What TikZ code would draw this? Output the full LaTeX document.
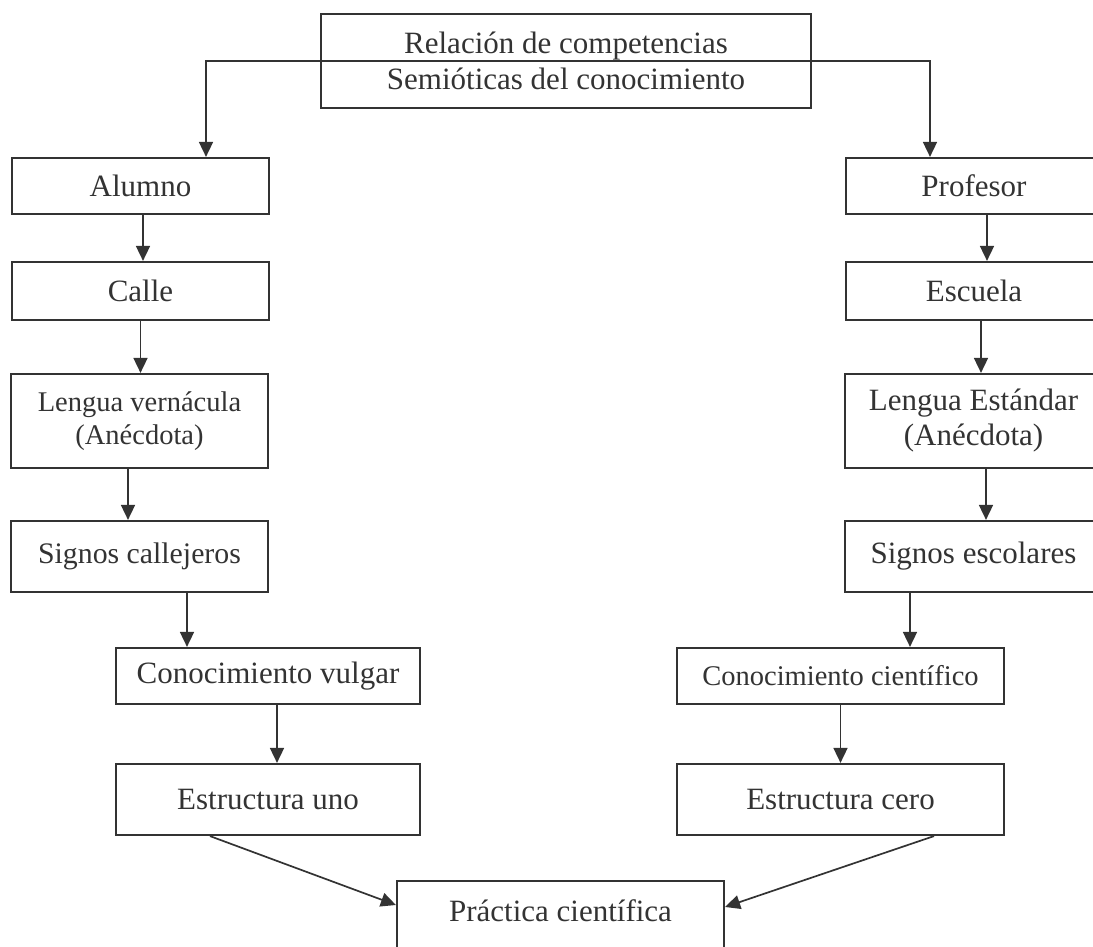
\documentclass[tikz,border=0pt]{standalone}
\usepackage{fontspec}
\setmainfont{Liberation Serif}
\usepackage{xcolor}
\usepackage{tikz}
\usetikzlibrary{arrows.meta}
\definecolor{trazo}{HTML}{333333}

\begin{document}
\begin{tikzpicture}[x=0.5pt, y=-0.5pt]
    \tikzstyle{caja}=[rectangle, draw=trazo, line width=1.1pt, inner sep=0pt, text=trazo, align=center, font=\fontsize{15.5}{18}\selectfont]
    \tikzstyle{flecha}=[-{Triangle[length=7.5pt, width=7pt]}, line width=0.85pt, color=trazo]

    \useasboundingbox (0,0) rectangle (1093,947);

    \node[caja, minimum width=245pt, minimum height=47pt] (titulo) at (566,61) {Relación de competencias\\Semióticas del conocimiento};

    \node[caja, minimum width=128.5pt, minimum height=28pt] (alumno) at (140.5,186) {Alumno};
    \node[caja, minimum width=128.5pt, minimum height=29pt] (calle) at (140.5,291) {Calle};
    \node[caja, minimum width=128.5pt, minimum height=47pt, font=\fontsize{14.25}{16.5}\selectfont] (lengua-vernacula) at (139.5,421) {Lengua vernácula\\(Anécdota)};
    \node[caja, minimum width=128.5pt, minimum height=35.5pt, font=\fontsize{14.9}{17}\selectfont] (signos-callejeros) at (139.5,556.5) {Signos callejeros};
    \node[caja, minimum width=152pt, minimum height=28pt] (conocimiento-vulgar) at (268,676) {Conocimiento vulgar};
    \node[caja, minimum width=152pt, minimum height=35.5pt] (estructura-uno) at (268,799.5) {Estructura uno};

    \node[caja, minimum width=128pt, minimum height=28pt] (profesor) at (974,186) {Profesor};
    \node[caja, minimum width=128pt, minimum height=29pt] (escuela) at (974,291) {Escuela};
    \node[caja, minimum width=128.5pt, minimum height=47pt, font=\fontsize{15.5}{17.5}\selectfont] (lengua-estandar) at (973.5,421) {Lengua Estándar\\(Anécdota)};
    \node[caja, minimum width=128.5pt, minimum height=35.5pt] (signos-escolares) at (973.5,556.5) {Signos escolares};
    \node[caja, minimum width=163.5pt, minimum height=28pt, font=\fontsize{14.25}{17}\selectfont] (conocimiento-cientifico) at (840.5,676) {Conocimiento científico};
    \node[caja, minimum width=163.5pt, minimum height=35.5pt] (estructura-cero) at (840.5,799.5) {Estructura cero};

    \node[caja, anchor=north, minimum width=163.5pt, text height=20pt, text depth=18pt] (practica) at (560.5,880) {Práctica científica};

    \draw[flecha] (titulo.center) -| ([xshift=32.75pt]alumno.north);
    \draw[flecha] (titulo.center) -| ([xshift=-22pt]profesor.north);

    \draw[flecha] ([xshift=1.25pt]alumno.south) -- ([xshift=1.25pt]calle.north);
    \draw[flecha] (calle.south) -- ([xshift=0.5pt]lengua-vernacula.north);
    \draw[flecha] ([xshift=-5.75pt]lengua-vernacula.south) -- ([xshift=-5.75pt]signos-callejeros.north);
    \draw[flecha] ([xshift=23.75pt]signos-callejeros.south) -- ([xshift=23.75pt]signos-callejeros.south |- conocimiento-vulgar.north);
    \draw[flecha] ([xshift=4.5pt]conocimiento-vulgar.south) -- ([xshift=4.5pt]estructura-uno.north);
    \draw[flecha] ([xshift=-29pt]estructura-uno.south) -- ([yshift=-12.5pt]practica.north west);

    \draw[flecha] ([xshift=6.5pt]profesor.south) -- ([xshift=6.5pt]escuela.north);
    \draw[flecha] ([xshift=3.5pt]escuela.south) -- ([xshift=3.5pt]escuela.south |- lengua-estandar.north);
    \draw[flecha] ([xshift=6.25pt]lengua-estandar.south) -- ([xshift=6.25pt]signos-escolares.north);
    \draw[flecha] ([xshift=-31.75pt]signos-escolares.south) -- ([xshift=-31.75pt]signos-escolares.south |- conocimiento-cientifico.north);
    \draw[flecha] (conocimiento-cientifico.south) -- (estructura-cero.north);
    \draw[flecha] ([xshift=46.75pt]estructura-cero.south) -- ([yshift=-13.5pt]practica.north east);
\end{tikzpicture}
\end{document}
